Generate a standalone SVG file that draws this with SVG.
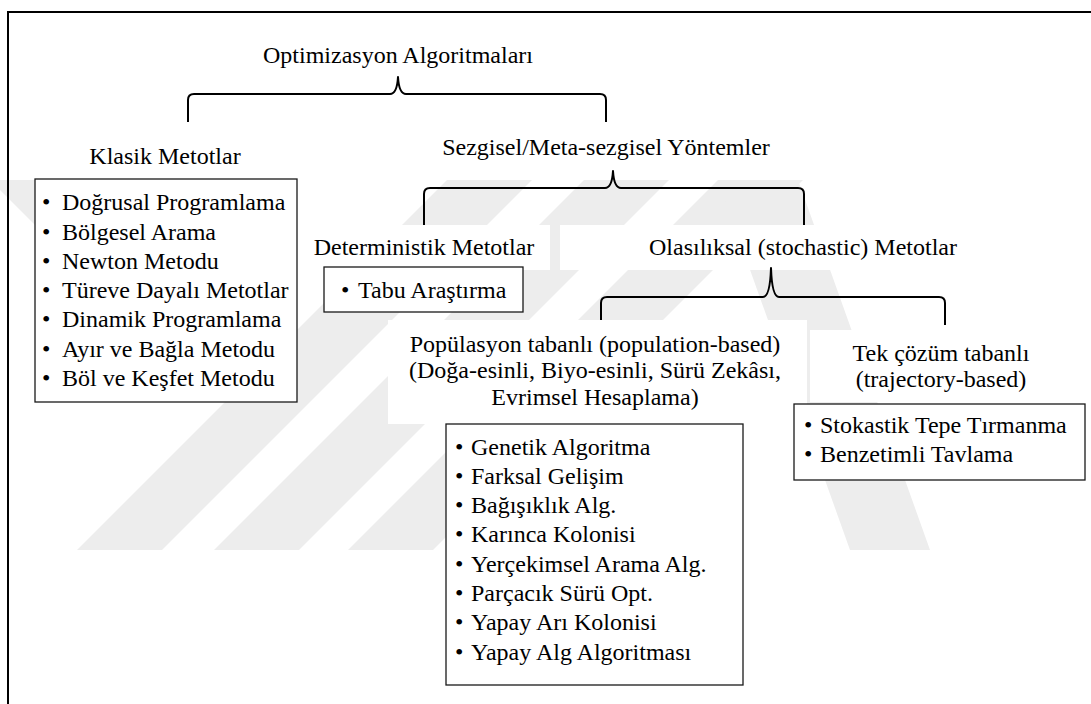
<svg xmlns="http://www.w3.org/2000/svg" width="1091" height="704" viewBox="0 0 1091 704">
  <defs>
    <style>
      text { font-family: "Liberation Serif", "Times New Roman", Times, serif; font-size: 24px; fill: #000; }
      .mid { text-anchor: middle; }
      .box { fill: #fff; stroke: #1a1a1a; stroke-width: 1.3; }
      .brace { fill: none; stroke: #000; stroke-width: 2; stroke-linejoin: round; }
      .mark { fill: #ededed; }
      .knock { fill: #fff; }
    </style>
  </defs>

  <rect x="0" y="0" width="1091" height="704" fill="#fff"/>

  <!-- background watermark stripes -->
  <g id="watermark">
    <polygon class="mark" points="0,180 40,180 110,250 110,300 0,190"/>
    <polygon class="mark" points="447,180 532,180 162,550 77,550"/>
    <polygon class="mark" points="584,180 669,180 299,550 214,550"/>
    <polygon class="mark" points="718,180 803,180 433,550 348,550"/>
    <polygon class="mark" points="718,180 798,180 930,550 850,550"/>
  </g>

  <!-- outer frame -->
  <path d="M8,704 V12 H1091" fill="none" stroke="#000" stroke-width="2"/>

  <!-- white label backgrounds -->
  <rect class="knock" x="300" y="225" width="250" height="45"/>
  <rect class="knock" x="560" y="225" width="480" height="45"/>
  <rect class="knock" x="388" y="320" width="419" height="104"/>
  <rect class="knock" x="810" y="330" width="270" height="72"/>

  <g id="connectors">
    <path class="brace" d="M188,122 V100 Q188,94 194,94 H390 Q397,94 398,77 Q399,94 406,94 H600 Q606,94 606,100 V122"/>
    <path class="brace" d="M424,225 V194 Q424,188 430,188 H605 Q612,188 613,171 Q614,188 621,188 H798 Q804,188 804,194 V225"/>
    <path class="brace" d="M601,320 V303 Q601,297 607,297 H763 Q770,297 771,268 Q772,297 779,297 H939 Q945,297 945,303 V325"/>
  </g>

  <g id="root">
    <text class="mid" x="398" y="63">Optimizasyon Algoritmaları</text>
  </g>

  <g id="klasik">
    <text class="mid" x="165" y="164">Klasik Metotlar</text>
    <rect class="box" x="35" y="179" width="262" height="223"/>
    <text y="210"><tspan x="42">•</tspan><tspan x="62">Doğrusal Programlama</tspan></text>
    <text y="239.5"><tspan x="42">•</tspan><tspan x="62">Bölgesel Arama</tspan></text>
    <text y="268.5"><tspan x="42">•</tspan><tspan x="62">Newton Metodu</tspan></text>
    <text y="298"><tspan x="42">•</tspan><tspan x="62">Türeve Dayalı Metotlar</tspan></text>
    <text y="327"><tspan x="42">•</tspan><tspan x="62">Dinamik Programlama</tspan></text>
    <text y="356.5"><tspan x="42">•</tspan><tspan x="62">Ayır ve Bağla Metodu</tspan></text>
    <text y="385.5"><tspan x="42">•</tspan><tspan x="62">Böl ve Keşfet Metodu</tspan></text>
  </g>

  <g id="sezgisel">
    <text class="mid" x="606" y="155">Sezgisel/Meta-sezgisel Yöntemler</text>
  </g>

  <g id="deterministik">
    <text class="mid" x="424" y="255">Deterministik Metotlar</text>
    <rect class="box" x="324" y="267" width="199" height="45"/>
    <text y="298"><tspan x="341">•</tspan><tspan x="358">Tabu Araştırma</tspan></text>
  </g>

  <g id="olasiliksal">
    <text class="mid" x="803" y="255">Olasılıksal (stochastic) Metotlar</text>
  </g>

  <g id="populasyon">
    <text class="mid" x="595" y="352">Popülasyon tabanlı (population-based)</text>
    <text class="mid" x="595" y="378">(Doğa-esinli, Biyo-esinli, Sürü Zekâsı,</text>
    <text class="mid" x="595" y="405">Evrimsel Hesaplama)</text>
    <rect class="box" x="446" y="424" width="297" height="261"/>
    <text y="455"><tspan x="455">•</tspan><tspan x="471">Genetik Algoritma</tspan></text>
    <text y="484"><tspan x="455">•</tspan><tspan x="471">Farksal Gelişim</tspan></text>
    <text y="513"><tspan x="455">•</tspan><tspan x="471">Bağışıklık Alg.</tspan></text>
    <text y="542"><tspan x="455">•</tspan><tspan x="471">Karınca Kolonisi</tspan></text>
    <text y="572"><tspan x="455">•</tspan><tspan x="471">Yerçekimsel Arama Alg.</tspan></text>
    <text y="601"><tspan x="455">•</tspan><tspan x="471">Parçacık Sürü Opt.</tspan></text>
    <text y="630"><tspan x="455">•</tspan><tspan x="471">Yapay Arı Kolonisi</tspan></text>
    <text y="660"><tspan x="455">•</tspan><tspan x="471">Yapay Alg Algoritması</tspan></text>
  </g>

  <g id="tekcozum">
    <text class="mid" x="941" y="361">Tek çözüm tabanlı</text>
    <text class="mid" x="941" y="387">(trajectory-based)</text>
    <rect class="box" x="794" y="404" width="291" height="76"/>
    <text y="433"><tspan x="804">•</tspan><tspan x="820">Stokastik Tepe Tırmanma</tspan></text>
    <text y="462"><tspan x="804">•</tspan><tspan x="820">Benzetimli Tavlama</tspan></text>
  </g>
</svg>
